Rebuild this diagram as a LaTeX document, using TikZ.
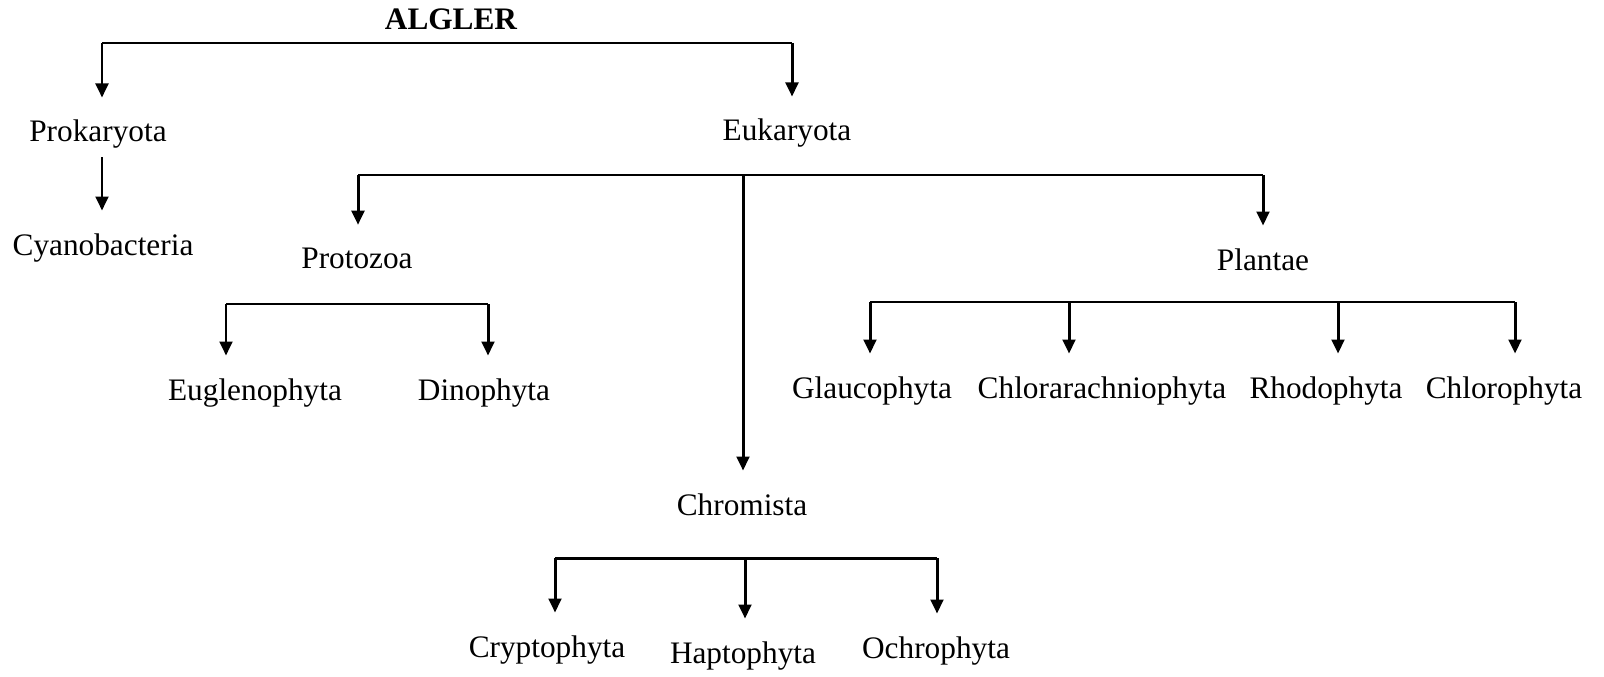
\documentclass[tikz,border=0pt]{standalone}
\usepackage{fontspec}
\setmainfont{Liberation Serif}
\usetikzlibrary{arrows.meta}

\begin{document}
\begin{tikzpicture}[x=0.01cm,y=-0.01cm,
		taxon/.style={anchor=base,inner sep=0.03cm,font=\fontsize{8.9}{10.7}\selectfont},
		branch/.style={line width=0.85pt},
		down/.style={branch,-{Triangle[length=4pt,width=3.6pt]},shorten >=0.19cm}]
	\useasboundingbox (0,0) rectangle (1604,676);
	% taxa
	\node[taxon,font=\fontsize{8.9}{10.7}\selectfont\bfseries] (algler) at (451,30) {ALGLER};
	\node[taxon] (prok) at (98,142) {Prokaryota};
	\node[taxon] (euk) at (787,141) {Eukaryota};
	\node[taxon] (cyano) at (103,255) {Cyanobacteria};
	\node[taxon] (proto) at (357,268) {Protozoa};
	\node[taxon] (plant) at (1263,270) {Plantae};
	\node[taxon] (eugl) at (255,400) {Euglenophyta};
	\node[taxon] (dino) at (484,400) {Dinophyta};
	\node[taxon] (glau) at (872,398) {Glaucophyta};
	\node[taxon] (chlorar) at (1102,398) {Chlorarachniophyta};
	\node[taxon] (rhodo) at (1326,398) {Rhodophyta};
	\node[taxon] (chloro) at (1504,398) {Chlorophyta};
	\node[taxon] (chrom) at (742,515) {Chromista};
	\node[taxon] (crypt) at (547,657) {Cryptophyta};
	\node[taxon] (hapto) at (743,663) {Haptophyta};
	\node[taxon] (ochro) at (936,658) {Ochrophyta};
	% branch points
	\coordinate (top-l) at (102,43);
	\coordinate (top-r) at (792,43);
	\coordinate (euk-l) at (358,175);
	\coordinate (euk-m) at (743,175);
	\coordinate (euk-r) at (1263,175);
	\coordinate (pro-l) at (226,304);
	\coordinate (pro-r) at (488,304);
	\coordinate (pla-1) at (870,302);
	\coordinate (pla-2) at (1069,302);
	\coordinate (pla-3) at (1338,302);
	\coordinate (pla-4) at (1515,302);
	\coordinate (chr-1) at (555,558);
	\coordinate (chr-2) at (745,558);
	\coordinate (chr-3) at (937,558);
	% bars
	\draw[branch] (top-l) -- (top-r);
	\draw[branch] (euk-l) -- (euk-r);
	\draw[branch] (pro-l) -- (pro-r);
	\draw[branch] (pla-1) -- (pla-4);
	\draw[branch] (chr-1) -- (chr-3);
	% arrows
	\foreach \c/\n in {top-l/prok,top-r/euk,euk-l/proto,euk-m/chrom,euk-r/plant,
			pro-l/eugl,pro-r/dino,pla-1/glau,pla-2/chlorar,pla-3/rhodo,pla-4/chloro,
			chr-1/crypt,chr-2/hapto,chr-3/ochro}
		\draw[down] (\c) -- (\c |- \n.north);
	\draw[down,shorten <=0.05cm] (prok.south -| top-l) -- (top-l |- cyano.north);
\end{tikzpicture}
\end{document}
